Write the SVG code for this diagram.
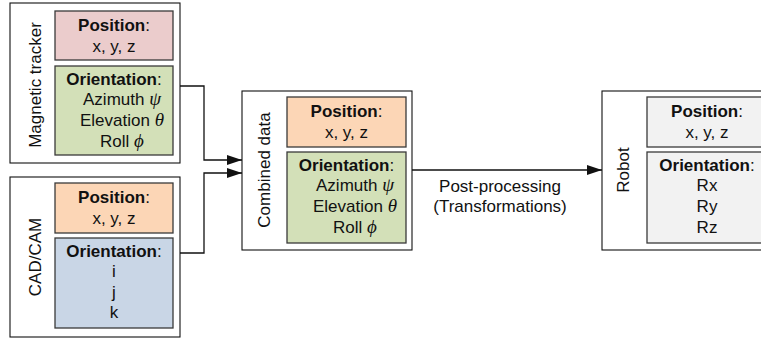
<svg xmlns="http://www.w3.org/2000/svg" width="761" height="340" viewBox="0 0 761 340">
<defs>
<marker id="arr" markerUnits="userSpaceOnUse" markerWidth="16" markerHeight="12" refX="15" refY="5" orient="auto">
<path d="M0,0 L15,5 L0,10 Z" fill="#111"/>
</marker>
<style>
.outer{fill:#fff;stroke:#111;stroke-width:1.1}
.inner{stroke:#3a3a3a;stroke-width:1.3}
.pink{fill:#ebcccc}.green{fill:#d3e0b8}.orange{fill:#fcd6b6}.blue{fill:#c9d6e6}.gray{fill:#f2f2f2}
text{font-family:"Liberation Sans",Arial,sans-serif;font-size:17px;fill:#111;text-anchor:middle}
.b{font-weight:bold}
.g{font-family:"Liberation Serif","DejaVu Serif",serif;font-style:italic;font-size:19px}
.conn{fill:none;stroke:#111;stroke-width:1.3}
</style>
</defs>
<g id="connectors">
<path class="conn" d="M180,86 H204 V160 H242" marker-end="url(#arr)"/>
<path class="conn" d="M180,253 H204 V173 H242" marker-end="url(#arr)"/>
<path class="conn" d="M412,170 H602" marker-end="url(#arr)"/>
<text x="500" y="192">Post-processing</text>
<text x="500" y="212">(Transformations)</text>
</g>
<g id="magnetic-tracker">
<rect class="outer" x="10" y="3" width="170" height="160"/>
<text transform="translate(41,85) rotate(-90)">Magnetic tracker</text>
<rect class="inner pink" x="55" y="11" width="118" height="49"/>
<text x="114" y="31"><tspan class="b">Position</tspan>:</text>
<text x="114" y="52">x, y, z</text>
<rect class="inner green" x="55" y="66" width="118" height="89"/>
<text x="114" y="85"><tspan class="b">Orientation</tspan>:</text>
<text x="122" y="105">Azimuth <tspan class="g">ψ</tspan></text>
<text x="122" y="126">Elevation <tspan class="g">θ</tspan></text>
<text x="122" y="147">Roll <tspan class="g">ϕ</tspan></text>
</g>
<g id="cad-cam">
<rect class="outer" x="10" y="177" width="170" height="160"/>
<text transform="translate(41,257) rotate(-90)">CAD/CAM</text>
<rect class="inner orange" x="55" y="183" width="118" height="50"/>
<text x="114" y="203"><tspan class="b">Position</tspan>:</text>
<text x="114" y="224">x, y, z</text>
<rect class="inner blue" x="55" y="238" width="118" height="90"/>
<text x="114" y="257"><tspan class="b">Orientation</tspan>:</text>
<text x="114" y="277">i</text>
<text x="114" y="298">j</text>
<text x="114" y="318">k</text>
</g>
<g id="combined-data">
<rect class="outer" x="242" y="91" width="170" height="159"/>
<text transform="translate(270,170) rotate(-90)">Combined data</text>
<rect class="inner orange" x="287" y="97" width="119" height="50"/>
<text x="346.5" y="117"><tspan class="b">Position</tspan>:</text>
<text x="346.5" y="138">x, y, z</text>
<rect class="inner green" x="287" y="152" width="119" height="91"/>
<text x="346.5" y="171"><tspan class="b">Orientation</tspan>:</text>
<text x="355" y="191">Azimuth <tspan class="g">ψ</tspan></text>
<text x="355" y="212">Elevation <tspan class="g">θ</tspan></text>
<text x="355" y="233">Roll <tspan class="g">ϕ</tspan></text>
</g>
<g id="robot">
<rect class="outer" x="602" y="91" width="172" height="159"/>
<text transform="translate(629,170) rotate(-90)">Robot</text>
<rect class="inner gray" x="647" y="97" width="119" height="50"/>
<text x="707" y="117"><tspan class="b">Position</tspan>:</text>
<text x="707" y="138">x, y, z</text>
<rect class="inner gray" x="647" y="152" width="119" height="91"/>
<text x="707" y="171"><tspan class="b">Orientation</tspan>:</text>
<text x="707" y="191">Rx</text>
<text x="707" y="212">Ry</text>
<text x="707" y="233">Rz</text>
</g>
</svg>
